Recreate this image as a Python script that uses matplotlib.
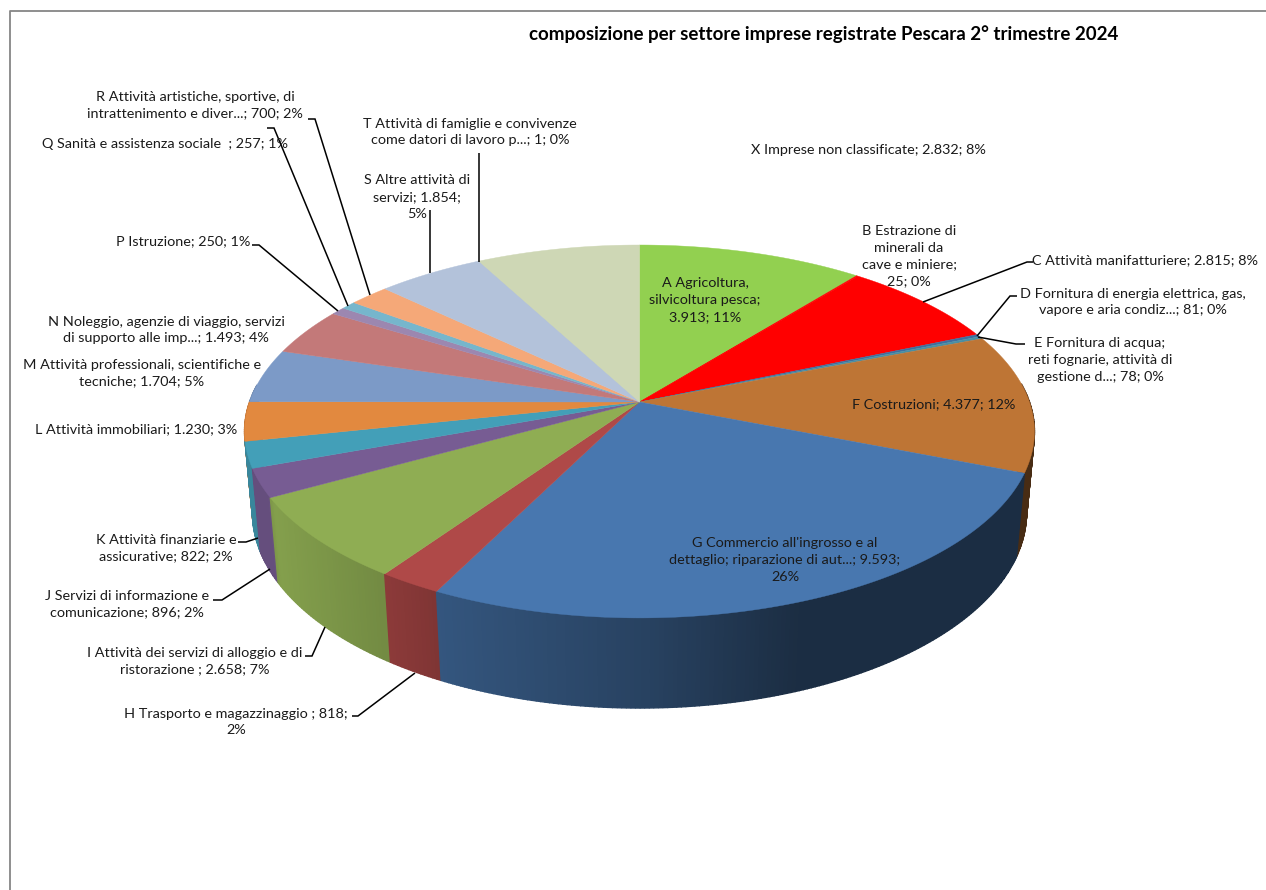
import matplotlib
matplotlib.use('Agg')
import matplotlib.pyplot as plt
import numpy as np

plt.rcParams['font.family'] = ['Lato', 'DejaVu Sans']

# imprese registrate per settore
sectors = ['A', 'B', 'C', 'D', 'E', 'F', 'G', 'H', 'I', 'J', 'K', 'L', 'M', 'N', 'P', 'Q', 'R', 'S', 'T', 'X']
values = [3913, 25, 2815, 81, 78, 4377, 9593, 818, 2658, 896, 822, 1230, 1704, 1493, 250, 257, 700, 1854, 1, 2832]
colors = ['#92D050', '#FF0000', '#FF0000', '#3F6E9E', '#4A8FA3', '#BE7535', '#4877AF', '#AF4948', '#8FAD53',
          '#775C93', '#439FB8', '#E2893F', '#7C9AC7', '#C37979', '#9C87B0', '#76B6CC', '#F5A878', '#B3C2DA',
          '#B3C2DA', '#CED7B5']

title = 'composizione per settore imprese registrate Pescara 2° trimestre 2024'

# testo, x centro, y centro
labels = [
    ('A Agricoltura,\nsilvicoltura pesca;\n3.913; 11%', 705, 300),
    ('B Estrazione di\nminerali da\ncave e miniere;\n25; 0%', 909, 256),
    ('C Attività manifatturiere; 2.815; 8%', 1145, 260),
    ('D Fornitura di energia elettrica, gas,\nvapore e aria condiz...; 81; 0%', 1133, 302),
    ('E Fornitura di acqua;\nreti fognarie, attività di\ngestione d...; 78; 0%', 1100, 360),
    ('F Costruzioni; 4.377; 12%', 934, 404),
    ("G Commercio all'ingrosso e al\ndettaglio; riparazione di aut...; 9.593;\n26%", 785, 560),
    ('H Trasporto e magazzinaggio ; 818;\n2%', 236, 722),
    ('I Attività dei servizi di alloggio e di\nristorazione ; 2.658; 7%', 195, 661),
    ('J Servizi di informazione e\ncomunicazione; 896; 2%', 127, 604),
    ('K Attività finanziarie e\nassicurative; 822; 2%', 166, 548),
    ('L Attività immobiliari; 1.230; 3%', 136, 429),
    ('M Attività professionali, scientifiche e\ntecniche; 1.704; 5%', 142, 373),
    ('N Noleggio, agenzie di viaggio, servizi\ndi supporto alle imp...; 1.493; 4%', 166, 330),
    ('P Istruzione; 250; 1%', 183, 241),
    ('Q Sanità e assistenza sociale  ; 257; 1%', 165, 144),
    ('R Attività artistiche, sportive, di\nintrattenimento e diver...; 700; 2%', 195, 105),
    ('S Altre attività di\nservizi; 1.854;\n5%', 417, 197),
    ('T Attività di famiglie e convivenze\ncome datori di lavoro p...; 1; 0%', 470, 132),
    ('X Imprese non classificate; 2.832; 8%', 868, 150),
]

# linee di richiamo
leaders = [
    [(1033, 262), (1027, 262), (923, 302)],
    [(1017, 296), (1010, 296), (977, 336)],
    [(1025, 344), (1016, 344), (978, 337)],
    [(238, 542), (246, 542), (258, 538)],
    [(213, 600), (222, 600), (270, 569)],
    [(305, 656), (312, 656), (325, 627)],
    [(352, 716), (358, 716), (415, 673)],
    [(252, 245), (259, 245), (338, 311)],
    [(267, 128), (274, 128), (348, 306)],
    [(308, 119), (315, 119), (370, 295)],
    [(430, 210), (430, 273)],
    [(479, 153), (479, 262)],
]

# parametri della prospettiva (pixel)
CX, CY = 639.5, 402
A, B, D = 390, 181.8, 82
K, M = 0.158, 0.02


def project(theta, z=0.0):
    # theta in senso orario dalle ore 12, z=1 sul bordo inferiore
    u = np.sin(theta)
    v = np.cos(theta)
    w = 1 + K * v + M * z
    return CX + A * u / w, CY + (-B * v + D * z) / w


def wall_color(color, x):
    # ombreggiatura del bordo: piu scuro verso destra
    f = np.interp(x, [250, 268, 275, 385, 440, 650, 800, 1040], [0.85, 0.85, 0.92, 0.8, 0.72, 0.55, 0.38, 0.38])
    return tuple(c * f for c in matplotlib.colors.to_rgb(color))


fig = plt.figure(figsize=(12.66, 8.9), dpi=100)
ax = fig.add_axes([0, 0, 1, 1])
ax.set_xlim(0, 1266)
ax.set_ylim(890, 0)
ax.axis('off')

# cornice
ax.plot([10, 10, 1266], [890, 11, 11], color='#868686', linewidth=1.3)

total = sum(values)
edges = np.concatenate([[0], np.cumsum(values)]) / total * 2 * np.pi

# bordo laterale, dal fondo verso il davanti
quads = []
for i, color in enumerate(colors):
    steps = max(2, int((edges[i + 1] - edges[i]) / 0.01))
    th = np.linspace(edges[i], edges[i + 1], steps)
    for t0, t1 in zip(th[:-1], th[1:]):
        if np.cos((t0 + t1) / 2) < 0.1:
            quads.append((np.cos((t0 + t1) / 2), t0, t1, color))
quads.sort(key=lambda q: -q[0])
for _, t0, t1, color in quads:
    x0, y0 = project(t0)
    x1, y1 = project(t1)
    x2, y2 = project(t1, 1)
    x3, y3 = project(t0, 1)
    c = wall_color(color, (x0 + x1) / 2)
    ax.fill([x0, x1, x2, x3], [y0, y1, y2, y3], facecolor=c, edgecolor=c, linewidth=1.0, zorder=2)

# faccia superiore
for i, color in enumerate(colors):
    steps = max(2, int((edges[i + 1] - edges[i]) / 0.005))
    th = np.linspace(edges[i], edges[i + 1], steps)
    xs, ys = project(th)
    ax.fill(np.r_[CX, xs], np.r_[CY, ys], facecolor=color, edgecolor=color, linewidth=0.3, zorder=3)

for pts in leaders:
    ax.plot([p[0] for p in pts], [p[1] for p in pts], color='black', linewidth=1.1, zorder=4,
            solid_capstyle='butt', solid_joinstyle='miter')

for text, x, y in labels:
    ax.text(x, y, text, ha='center', va='center', fontsize=10.4, color='#1a1a1a', linespacing=1.47, zorder=5)

ax.text(823.5, 34, title, ha='center', va='center', fontsize=13.5, fontweight='bold', color='black')

fig.savefig('out.png', dpi=100)
